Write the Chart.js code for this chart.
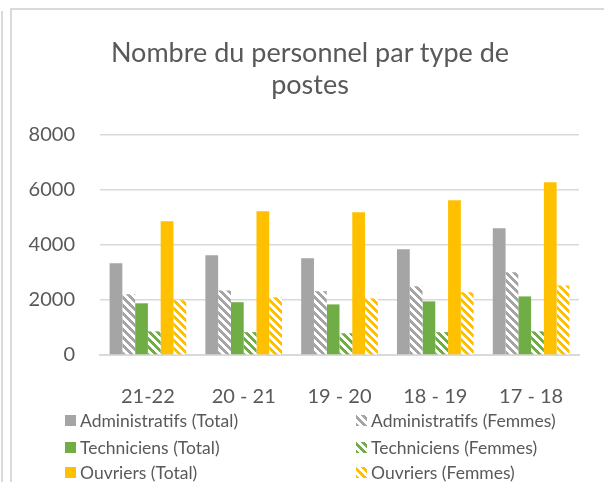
<!DOCTYPE html>
<html><head><meta charset="utf-8">
<script src="https://cdn.jsdelivr.net/npm/chart.js@4.4.1/dist/chart.umd.min.js"></script>
<style>
html,body{margin:0;padding:0;background:#fff;}
#wrap{position:relative;width:604px;height:482px;overflow:hidden;background:#fff;}
#frame{position:absolute;left:10px;top:8px;width:700px;height:600px;border-left:2px solid #d9d9d9;border-top:2px solid #d9d9d9;}
#outer{position:absolute;left:1px;top:11px;width:2px;height:480px;background:#d9d9d9;}
canvas{position:absolute;left:0;top:0;}
#title{position:absolute;left:110px;width:400px;top:36px;text-align:center;font-family:Lato,sans-serif;font-size:27px;line-height:32px;color:#595959;white-space:nowrap;}
#legend{position:absolute;left:0;top:0;width:604px;height:482px;font-family:Lato,sans-serif;font-size:17.5px;color:#595959;}
.item{position:absolute;display:flex;align-items:center;white-space:nowrap;height:20px;}
.sw{width:11px;height:11px;margin-right:4px;flex:none;}
</style></head>
<body>
<div id="wrap">
<div id="outer"></div>
<div id="frame"></div>
<canvas id="c" width="604" height="482"></canvas>
<div id="title"></div>
<div id="legend"></div>
</div>
<script>
const categories = ['21-22', '20 - 21', '19 - 20', '18 - 19', '17 - 18'];
const adminTotal  = [3340, 3630, 3520, 3850, 4610];
const adminFemmes = [2210, 2350, 2320, 2500, 3010];
const techTotal   = [1880, 1920, 1840, 1950, 2130];
const techFemmes  = [860, 830, 790, 830, 860];
const ouvTotal    = [4860, 5230, 5190, 5630, 6280];
const ouvFemmes   = [1990, 2100, 2060, 2280, 2530];
const yTicks = [0, 2000, 4000, 6000, 8000];
const titleLines = ['Nombre du personnel par type de', 'postes'];
const seriesNames = ['Administratifs (Total)', 'Administratifs (Femmes)', 'Techniciens (Total)', 'Techniciens (Femmes)', 'Ouvriers (Total)', 'Ouvriers (Femmes)'];

const GRAY = '#a5a5a5', GREEN = '#70ad47', GOLD = '#ffc000', TXT = '#595959', GRID = '#d9d9d9';

function hexToRgb(h){ return [parseInt(h.slice(1,3),16), parseInt(h.slice(3,5),16), parseInt(h.slice(5,7),16)]; }
function makePattern(color){
  const n = 8;
  const cv = document.createElement('canvas'); cv.width = n; cv.height = n;
  const cx = cv.getContext('2d');
  const img = cx.createImageData(n, n);
  const [r,g,b] = hexToRgb(color);
  for (let y = 0; y < n; y++) for (let x = 0; x < n; x++) {
    const fg = (((x - y) % n) + n) % n < 4;
    const i = (y*n + x)*4;
    img.data[i] = fg ? r : 255; img.data[i+1] = fg ? g : 255; img.data[i+2] = fg ? b : 255; img.data[i+3] = 255;
  }
  cx.putImageData(img, 0, 0);
  return document.getElementById('c').getContext('2d').createPattern(cv, 'repeat');
}

const datasets = [
  {label: seriesNames[0], data: adminTotal,  backgroundColor: GRAY,  swatch: GRAY,  striped: false},
  {label: seriesNames[1], data: adminFemmes, backgroundColor: makePattern(GRAY),  swatch: GRAY,  striped: true},
  {label: seriesNames[2], data: techTotal,   backgroundColor: GREEN, swatch: GREEN, striped: false},
  {label: seriesNames[3], data: techFemmes,  backgroundColor: makePattern(GREEN), swatch: GREEN, striped: true},
  {label: seriesNames[4], data: ouvTotal,    backgroundColor: GOLD,  swatch: GOLD,  striped: false},
  {label: seriesNames[5], data: ouvFemmes,   backgroundColor: makePattern(GOLD),  swatch: GOLD,  striped: true}
];

// Title as real text
const tEl = document.getElementById('title');
titleLines.forEach(l => { const d = document.createElement('div'); d.textContent = l; tEl.appendChild(d); });

const chart = new Chart(document.getElementById('c'), {
  type: 'bar',
  data: {labels: categories, datasets: datasets},
  options: {
    responsive: false, animation: false,
    layout: {padding: {left: 0, right: 25, top: 135, bottom: 67}},
    datasets: {bar: {categoryPercentage: 0.8, barPercentage: 1.0}},
    plugins: {
      legend: {display: false},
      tooltip: {enabled: false},
      title: {display: false}
    },
    scales: {
      x: {
        grid: {display: false, drawTicks: false},
        border: {display: true, color: GRID, width: 2},
        ticks: {color: TXT, font: {family: 'Lato', size: 20}, padding: 30, maxRotation: 0},
        afterFit(s){ s.height = 60; }
      },
      y: {
        min: 0, max: 8000,
        afterBuildTicks(s){ s.ticks = yTicks.map(v => ({value: v})); },
        grid: {color: GRID, lineWidth: 1.5, drawTicks: false},
        border: {display: false},
        ticks: {color: TXT, font: {family: 'Lato', size: 20}, padding: 25, callback: v => String(v)},
        afterFit(s){ s.width = 100; }
      }
    }
  }
});

// HTML legend in two columns built from the datasets
const leg = document.getElementById('legend');
const colX = [65, 356], rowY = [420, 447, 472];
datasets.forEach((d, i) => {
  const it = document.createElement('div');
  it.className = 'item';
  it.style.left = colX[i % 2] + 'px';
  it.style.top = (rowY[Math.floor(i / 2)] - 10) + 'px';
  const sw = document.createElement('span');
  sw.className = 'sw';
  sw.style.background = d.striped
    ? `repeating-linear-gradient(45deg, ${d.swatch} 0 2.8px, #fff 2.8px 5.6px)`
    : d.swatch;
  it.appendChild(sw);
  const t = document.createElement('span');
  t.textContent = d.label;
  it.appendChild(t);
  leg.appendChild(it);
});
</script>
</body></html>
